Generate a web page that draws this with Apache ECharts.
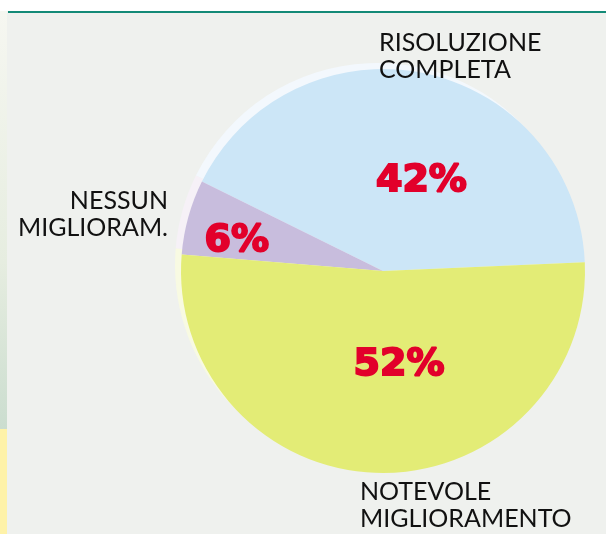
<!DOCTYPE html>
<html>
<head>
<meta charset="utf-8">
<script src="https://cdn.jsdelivr.net/npm/echarts@6/dist/echarts.min.js"></script>
<style>
  html, body { margin: 0; padding: 0; background: #fff; }
  #chart { width: 606px; height: 534px; }
</style>
</head>
<body>
<div id="chart"></div>
<script>
// dati del grafico
const categories = ['RISOLUZIONE\nCOMPLETA', 'NESSUN\nMIGLIORAM.', 'NOTEVOLE\nMIGLIORAMENTO']
const values = [42, 6, 52]
const colors = ['#cce6f7', '#c8bddd', '#e3ec76']
const rimColors = ['#f3f8fd', '#f6f1f7', '#f8fae2']
// spostamento delle etichette percentuali rispetto al centro della fetta
const labelShift = [[17, 12], [-46, -2], [18, -10]]

const chart = echarts.init(document.getElementById('chart'))

const pieData = values.map((v, i) => ({
  name: categories[i],
  value: v,
  itemStyle: { color: colors[i] }
}))
const rimData = values.map((v, i) => ({
  name: categories[i],
  value: v,
  itemStyle: { color: rimColors[i] }
}))

const nameFont = '25px Lato, "DejaVu Sans", sans-serif'

const option = {
  backgroundColor: '#eff1ee',
  animation: false,
  graphic: [
    // striscia bianca in alto e linea verde
    { type: 'rect', shape: { x: 0, y: 0, width: 606, height: 11 }, style: { fill: '#ffffff' }, silent: true },
    { type: 'rect', shape: { x: 8, y: 11, width: 598, height: 2 }, style: { fill: '#138a77' }, silent: true },
    // bordo sinistro
    {
      type: 'rect', shape: { x: 0, y: 11, width: 7, height: 418 }, silent: true,
      style: {
        fill: new echarts.graphic.LinearGradient(0, 0, 0, 1, [
          { offset: 0, color: '#f6f7f1' },
          { offset: 0.6, color: '#e6ede0' },
          { offset: 1, color: '#cbddcf' }
        ])
      }
    },
    { type: 'rect', shape: { x: 0, y: 429, width: 7, height: 105 }, style: { fill: '#fef2a8' }, silent: true },
    // nomi delle categorie
    { type: 'text', x: 379, y: 29, z: 100, silent: true,
      style: { text: categories[0], font: nameFont, lineHeight: 27, fill: '#111', align: 'left', verticalAlign: 'top' } },
    { type: 'text', x: 168, y: 187, z: 100, silent: true,
      style: { text: categories[1], font: nameFont, lineHeight: 27, fill: '#111', align: 'right', verticalAlign: 'top' } },
    { type: 'text', x: 360, y: 478, z: 100, silent: true,
      style: { text: categories[2], font: nameFont, lineHeight: 27, fill: '#111', align: 'left', verticalAlign: 'top' } }
  ],
  series: [
    {
      // bordo chiaro dietro la torta
      type: 'pie',
      silent: true,
      z: 1,
      center: [377, 265],
      radius: 202,
      startAngle: 2.5,
      clockwise: false,
      label: { show: false },
      labelLine: { show: false },
      data: rimData
    },
    {
      type: 'pie',
      z: 2,
      center: [383, 271],
      radius: 202,
      startAngle: 2.5,
      clockwise: false,
      label: {
        show: true,
        position: 'inside',
        formatter: '{c}%',
        color: '#e2002b',
        fontFamily: '"DejaVu Sans", sans-serif',
        fontWeight: 'bold',
        fontSize: 38,
        textBorderColor: '#e2002b',
        textBorderWidth: 2
      },
      labelLayout: function (params) {
        const s = labelShift[params.dataIndex]
        return { dx: s[0], dy: s[1] }
      },
      labelLine: { show: false },
      data: pieData
    }
  ]
}

chart.setOption(option)
</script>
</body>
</html>
